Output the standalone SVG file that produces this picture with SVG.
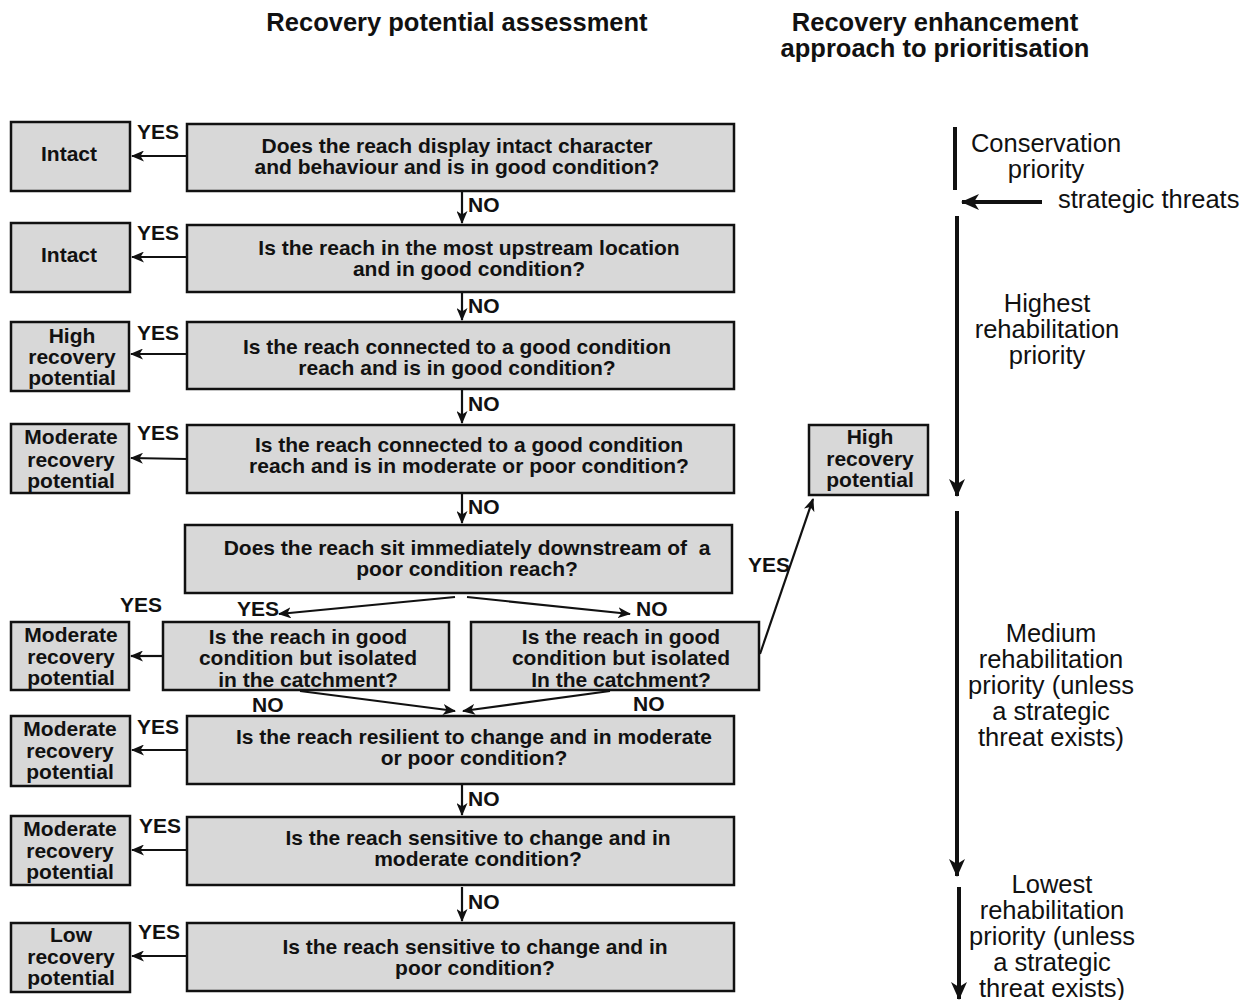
<svg xmlns="http://www.w3.org/2000/svg" width="1250" height="1000" viewBox="0 0 1250 1000">
<style>
.box{fill:#d8d8d8;stroke:#111;stroke-width:2.5}
.t{font-family:"Liberation Sans Narrow","Liberation Sans",sans-serif;font-weight:bold;font-size:21px;text-anchor:middle;fill:#111}
.lbl{font-family:"Liberation Sans Narrow","Liberation Sans",sans-serif;font-weight:bold;font-size:21px;fill:#111}
.title{font-family:"Liberation Sans",Arial,sans-serif;font-weight:bold;font-size:25.5px;text-anchor:middle;fill:#111}
.hb{font-family:"Liberation Sans",Arial,sans-serif;font-weight:bold;font-size:21px;text-anchor:middle;fill:#111}
.r{font-family:"Liberation Sans",Arial,sans-serif;font-size:25.5px;text-anchor:middle;fill:#111}
.rs{font-family:"Liberation Sans",Arial,sans-serif;font-size:25.5px;text-anchor:start;fill:#111}
.c{stroke:#111;stroke-width:2.2;fill:none}
.cb{stroke:#111;stroke-width:4;fill:none}
</style>
<defs>
<marker id="a" markerUnits="userSpaceOnUse" markerWidth="13" markerHeight="11" refX="12" refY="5.5" orient="auto">
<path d="M0,0 L13,5.5 L0,11 L3.5,5.5 z" fill="#111"/>
</marker>
<marker id="ab" markerUnits="userSpaceOnUse" markerWidth="18" markerHeight="16" refX="17" refY="8" orient="auto">
<path d="M0,0 L18,8 L0,16 L5,8 z" fill="#111"/>
</marker>
</defs>
<rect width="1250" height="1000" fill="#fff"/>

<g id="titles">
<text class="title" x="457" y="31">Recovery potential assessment</text>
<text class="title" x="935" y="31">Recovery enhancement</text>
<text class="title" x="935" y="57">approach to prioritisation</text>
</g>

<g id="q1"><rect class="box" x="187" y="124" width="547" height="67"/>
<text class="t" x="457" y="153">Does the reach display intact character</text>
<text class="t" x="457" y="174">and behaviour and is in good condition?</text></g>
<g id="r1"><rect class="box" x="11" y="122" width="119" height="69"/>
<text class="t" x="69" y="161">Intact</text></g>

<g id="q2"><rect class="box" x="187" y="225" width="547" height="67"/>
<text class="t" x="469" y="255">Is the reach in the most upstream location</text>
<text class="t" x="469" y="276">and in good condition?</text></g>
<g id="r2"><rect class="box" x="11" y="223" width="119" height="69"/>
<text class="t" x="69" y="262">Intact</text></g>

<g id="q3"><rect class="box" x="187" y="322" width="547" height="67"/>
<text class="t" x="457" y="354">Is the reach connected to a good condition</text>
<text class="t" x="457" y="375">reach and is in good condition?</text></g>
<g id="r3"><rect class="box" x="11" y="322" width="118" height="69"/>
<text class="t" x="72" y="343">High</text>
<text class="t" x="72" y="364">recovery</text>
<text class="t" x="72" y="385">potential</text></g>

<g id="q4"><rect class="box" x="187" y="425" width="547" height="68"/>
<text class="t" x="469" y="452">Is the reach connected to a good condition</text>
<text class="t" x="469" y="473">reach and is in moderate or poor condition?</text></g>
<g id="r4"><rect class="box" x="11" y="424" width="118" height="69"/>
<text class="t" x="71" y="444">Moderate</text>
<text class="t" x="71" y="467">recovery</text>
<text class="t" x="71" y="488">potential</text></g>

<g id="q5"><rect class="box" x="185" y="525" width="547" height="68"/>
<text class="t" x="467" y="555" style="white-space:pre">Does the reach sit immediately downstream of  a</text>
<text class="t" x="467" y="576">poor condition reach?</text></g>

<g id="q5a"><rect class="box" x="163" y="622" width="286" height="68"/>
<text class="t" x="308" y="644">Is the reach in good</text>
<text class="t" x="308" y="665">condition but isolated</text>
<text class="t" x="308" y="687">in the catchment?</text></g>
<g id="r5"><rect class="box" x="11" y="622" width="118" height="68"/>
<text class="t" x="71" y="642">Moderate</text>
<text class="t" x="71" y="664">recovery</text>
<text class="t" x="71" y="685">potential</text></g>

<g id="q5b"><rect class="box" x="471" y="622" width="288" height="68"/>
<text class="t" x="621" y="644">Is the reach in good</text>
<text class="t" x="621" y="665">condition but isolated</text>
<text class="t" x="621" y="687">In the catchment?</text></g>

<g id="rh"><rect class="box" x="809" y="425" width="119" height="70"/>
<text class="hb" x="870" y="444">High</text>
<text class="hb" x="870" y="466">recovery</text>
<text class="hb" x="870" y="487">potential</text></g>

<g id="q6"><rect class="box" x="187" y="716" width="547" height="68"/>
<text class="t" x="474" y="744">Is the reach resilient to change and in moderate</text>
<text class="t" x="474" y="765">or poor condition?</text></g>
<g id="r6"><rect class="box" x="11" y="716" width="119" height="70"/>
<text class="t" x="70" y="736">Moderate</text>
<text class="t" x="70" y="758">recovery</text>
<text class="t" x="70" y="779">potential</text></g>

<g id="q7"><rect class="box" x="187" y="817" width="547" height="68"/>
<text class="t" x="478" y="845">Is the reach sensitive to change and in</text>
<text class="t" x="478" y="866">moderate condition?</text></g>
<g id="r7"><rect class="box" x="11" y="816" width="119" height="69"/>
<text class="t" x="70" y="836">Moderate</text>
<text class="t" x="70" y="858">recovery</text>
<text class="t" x="70" y="879">potential</text></g>

<g id="q8"><rect class="box" x="187" y="923" width="547" height="68"/>
<text class="t" x="475" y="954">Is the reach sensitive to change and in</text>
<text class="t" x="475" y="975">poor condition?</text></g>
<g id="r8"><rect class="box" x="11" y="923" width="119" height="69"/>
<text class="t" x="71" y="942">Low</text>
<text class="t" x="71" y="964">recovery</text>
<text class="t" x="71" y="985">potential</text></g>

<g id="connectors">
<line class="c" x1="187" y1="156" x2="132" y2="156" marker-end="url(#a)"/>
<line class="c" x1="187" y1="257" x2="132" y2="257" marker-end="url(#a)"/>
<line class="c" x1="187" y1="354" x2="131" y2="354" marker-end="url(#a)"/>
<line class="c" x1="187" y1="459" x2="131" y2="458" marker-end="url(#a)"/>
<line class="c" x1="163" y1="656" x2="131" y2="656" marker-end="url(#a)"/>
<line class="c" x1="187" y1="750" x2="132" y2="750" marker-end="url(#a)"/>
<line class="c" x1="187" y1="850" x2="132" y2="850" marker-end="url(#a)"/>
<line class="c" x1="187" y1="956" x2="132" y2="956" marker-end="url(#a)"/>

<line class="c" x1="462" y1="192" x2="462" y2="223" marker-end="url(#a)"/>
<line class="c" x1="462" y1="293" x2="462" y2="320" marker-end="url(#a)"/>
<line class="c" x1="462" y1="390" x2="462" y2="423" marker-end="url(#a)"/>
<line class="c" x1="462" y1="494" x2="462" y2="523" marker-end="url(#a)"/>
<line class="c" x1="462" y1="785" x2="462" y2="815" marker-end="url(#a)"/>
<line class="c" x1="462" y1="887" x2="462" y2="921" marker-end="url(#a)"/>

<line class="c" x1="455" y1="597" x2="279" y2="614" marker-end="url(#a)"/>
<line class="c" x1="467" y1="597" x2="630" y2="614" marker-end="url(#a)"/>
<line class="c" x1="300" y1="691" x2="455" y2="711" marker-end="url(#a)"/>
<line class="c" x1="610" y1="691" x2="463" y2="711" marker-end="url(#a)"/>
<line class="c" x1="760" y1="654" x2="813" y2="499" marker-end="url(#a)"/>

<line class="cb" x1="955" y1="127" x2="955" y2="190"/>
<line class="cb" x1="1042" y1="202" x2="962" y2="202" marker-end="url(#ab)"/>
<line class="cb" x1="957" y1="216" x2="957" y2="496" marker-end="url(#ab)"/>
<line class="cb" x1="957" y1="511" x2="957" y2="876" marker-end="url(#ab)"/>
<line class="cb" x1="959" y1="887" x2="959" y2="999" marker-end="url(#ab)"/>
</g>

<g id="labels">
<text class="lbl" x="137" y="139">YES</text>
<text class="lbl" x="137" y="240">YES</text>
<text class="lbl" x="137" y="340">YES</text>
<text class="lbl" x="137" y="440">YES</text>
<text class="lbl" x="120" y="612">YES</text>
<text class="lbl" x="237" y="616">YES</text>
<text class="lbl" x="636" y="616">NO</text>
<text class="lbl" x="252" y="712">NO</text>
<text class="lbl" x="633" y="711">NO</text>
<text class="lbl" x="748" y="572">YES</text>
<text class="lbl" x="137" y="734">YES</text>
<text class="lbl" x="139" y="833">YES</text>
<text class="lbl" x="138" y="939">YES</text>
<text class="lbl" x="468" y="212">NO</text>
<text class="lbl" x="468" y="313">NO</text>
<text class="lbl" x="468" y="411">NO</text>
<text class="lbl" x="468" y="514">NO</text>
<text class="lbl" x="468" y="806">NO</text>
<text class="lbl" x="468" y="909">NO</text>
</g>

<g id="priorities">
<text class="r" x="1046" y="152">Conservation</text>
<text class="r" x="1046" y="178">priority</text>
<text class="rs" x="1058" y="208">strategic threats</text>
<text class="r" x="1047" y="312">Highest</text>
<text class="r" x="1047" y="338">rehabilitation</text>
<text class="r" x="1047" y="364">priority</text>
<text class="r" x="1051" y="642">Medium</text>
<text class="r" x="1051" y="668">rehabilitation</text>
<text class="r" x="1051" y="694">priority (unless</text>
<text class="r" x="1051" y="720">a strategic</text>
<text class="r" x="1051" y="746">threat exists)</text>
<text class="r" x="1052" y="893">Lowest</text>
<text class="r" x="1052" y="919">rehabilitation</text>
<text class="r" x="1052" y="945">priority (unless</text>
<text class="r" x="1052" y="971">a strategic</text>
<text class="r" x="1052" y="997">threat exists)</text>
</g>
</svg>
